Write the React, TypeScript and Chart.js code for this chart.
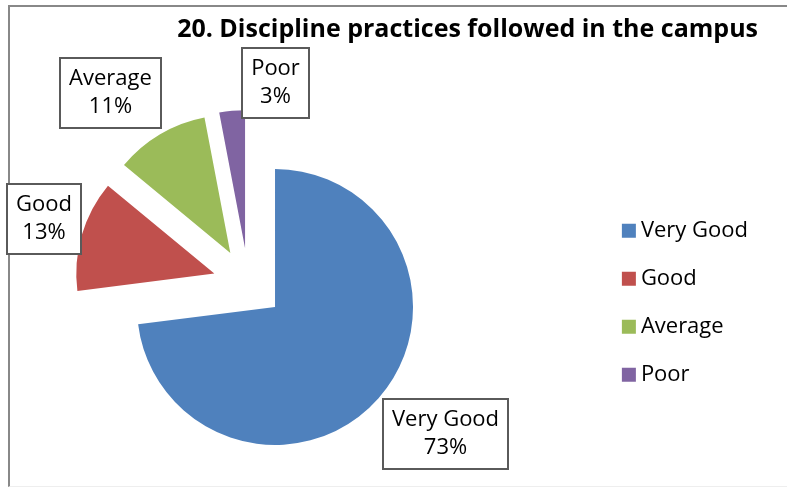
import React, { useEffect, useRef } from 'react';
import { Chart, registerables } from 'chart.js';

Chart.register(...registerables);

const TITLE = '20. Discipline practices followed in the campus';
const CATEGORIES = ['Very Good', 'Good', 'Average', 'Poor'];
const PERCENTAGES = [73, 13, 11, 3];
const COLORS = ['#4F81BD', '#C0504D', '#9BBB59', '#8064A2'];

const VIEW_W = 787;
const VIEW_H = 487;
const SHIFT = 150;
const CANVAS_W = VIEW_W + SHIFT;
const FONT = "'Open Sans', 'Noto Sans', sans-serif";
const TEXT_SIZE = 22;
const TITLE_SIZE = 25;
const ROW_STEP = 48;
const LEGEND_RIGHT = 758;
const LEGEND_BOTTOM = 411.7;
const PIE_CX = 248.4;
const PIE_CY = 283.5;
const PIE_R = 138;
const EXPLODE = 35.5;
const TITLE_MID = 30;

const explodePlugin = {
  id: 'explode',
  afterDatasetsUpdate(chart: any, _args: any, opts: any) {
    const meta = chart.getDatasetMeta(0);
    meta.data.forEach((arc: any) => {
      const mid = (arc.startAngle + arc.endAngle) / 2;
      arc.x += opts.distance * Math.cos(mid);
      arc.y += opts.distance * Math.sin(mid);
    });
  },
};

const labelPlugin = {
  id: 'sliceLabels',
  afterDatasetsDraw(chart: any, _args: any, opts: any) {
    const ctx = chart.ctx;
    const meta = chart.getDatasetMeta(0);
    const values = chart.data.datasets[0].data as number[];
    const total = values.reduce((a: number, b: number) => a + b, 0);
    ctx.save();
    ctx.font = `${opts.size}px ${opts.family}`;
    meta.data.forEach((arc: any, i: number) => {
      const mid = (arc.startAngle + arc.endAngle) / 2;
      const c = Math.cos(mid);
      const s = Math.sin(mid);
      const r = arc.outerRadius + opts.gap;
      const ax = arc.x + r * c;
      const ay = arc.y + r * s;
      const m = Math.max(Math.abs(c), Math.abs(s));
      const lines = [String(chart.data.labels[i]), `${Math.round((values[i] / total) * 100)}%`];
      const tw = Math.max(...lines.map((l) => ctx.measureText(l).width));
      const w = Math.round(tw + 2 * opts.padX);
      const h = Math.round(lines.length * opts.lineHeight + 2 * opts.padY);
      const nudge = opts.nudges[i] || [0, 0];
      const cx = ax + ((c / m) * w) / 2 + nudge[0];
      const cy = ay + ((s / m) * h) / 2 + nudge[1];
      const left = Math.round(cx - w / 2);
      const top = Math.round(cy - h / 2);
      ctx.fillStyle = '#ffffff';
      ctx.fillRect(left, top, w, h);
      ctx.lineWidth = opts.borderWidth;
      ctx.strokeStyle = opts.borderColor;
      ctx.strokeRect(left, top, w, h);
      ctx.fillStyle = opts.color;
      ctx.textAlign = 'center';
      ctx.textBaseline = 'middle';
      lines.forEach((l, k) => {
        ctx.fillText(l, left + w / 2, top + opts.padY + opts.lineHeight * (k + 0.5) + opts.textShift);
      });
    });
    ctx.restore();
  },
};

export default function App() {
  const ref = useRef<HTMLCanvasElement>(null);

  useEffect(() => {
    const canvas = ref.current as HTMLCanvasElement;
    const m = canvas.getContext('2d') as CanvasRenderingContext2D;
    m.font = `${TEXT_SIZE}px ${FONT}`;
    const tw = Math.max(...CATEGORIES.map((c) => m.measureText(c).width));
    const legendPad = ROW_STEP - TEXT_SIZE;
    const swatchStroke = TEXT_SIZE - 10;
    const swatchCore = 24 - TEXT_SIZE;
    const legendWidth = legendPad + swatchCore + TEXT_SIZE / 2 + tw + 10;
    const legendLeft = LEGEND_RIGHT - legendWidth;
    const padLeft = 2 * PIE_CX - legendLeft + SHIFT;
    const padRight = VIEW_W - LEGEND_RIGHT;
    const areaTop = 2 * PIE_CY - LEGEND_BOTTOM;
    const titleLH = TITLE_SIZE * 1.2;
    const titleTop = TITLE_MID - titleLH / 2;

    const chart = new Chart(canvas, {
      type: 'pie',
      data: {
        labels: CATEGORIES,
        datasets: [
          {
            data: PERCENTAGES,
            backgroundColor: COLORS,
            borderWidth: 0,
            radius: PIE_R,
            clip: false,
          } as any,
        ],
      },
      options: {
        responsive: false,
        animation: false,
        events: [],
        layout: {
          padding: { left: padLeft, right: padRight, top: 0, bottom: VIEW_H - LEGEND_BOTTOM },
        },
        plugins: {
          title: {
            display: true,
            text: TITLE,
            align: 'end',
            color: '#000000',
            font: { family: FONT, size: TITLE_SIZE, weight: 'bold', lineHeight: 1.2 },
            padding: { top: titleTop, bottom: areaTop - titleTop - titleLH },
          },
          legend: {
            display: true,
            position: 'right',
            align: 'end',
            labels: {
              color: '#000000',
              font: { family: FONT, size: TEXT_SIZE },
              boxWidth: swatchCore,
              boxHeight: swatchCore,
              padding: legendPad,
              generateLabels: (ch: any) => {
                const base = (Chart as any).overrides.doughnut.plugins.legend.labels.generateLabels(ch);
                return base.map((it: any) => ({ ...it, lineWidth: swatchStroke, strokeStyle: it.fillStyle }));
              },
            },
          },
          tooltip: { enabled: false },
          explode: { distance: EXPLODE },
          sliceLabels: {
            family: FONT,
            size: TEXT_SIZE,
            gap: 5,
            padX: 9,
            padY: 7,
            lineHeight: 28,
            textShift: 0,
            borderWidth: 2,
            borderColor: '#5a5a5a',
            color: '#000000',
            nudges: [
              [1, 1.5],
              [4.5, -4.6],
              [-17.5, -2],
              [47.5, 12.4],
            ],
          },
        } as any,
      },
      plugins: [explodePlugin, labelPlugin],
    });
    return () => chart.destroy();
  }, []);

  return (
    <div
      style={{
        position: 'fixed',
        left: 0,
        top: 0,
        width: VIEW_W,
        height: VIEW_H,
        overflow: 'hidden',
        background: '#ffffff',
      }}
    >
      <div
        style={{
          position: 'absolute',
          left: 8,
          top: 5,
          width: 900,
          height: 479,
          borderLeft: '2px solid #888888',
          borderTop: '2px solid #888888',
          borderBottom: '1px solid #eeeeee',
        }}
      />
      <canvas
        ref={ref}
        width={CANVAS_W}
        height={VIEW_H}
        style={{ position: 'absolute', left: -SHIFT, top: 0 }}
      />
    </div>
  );
}
